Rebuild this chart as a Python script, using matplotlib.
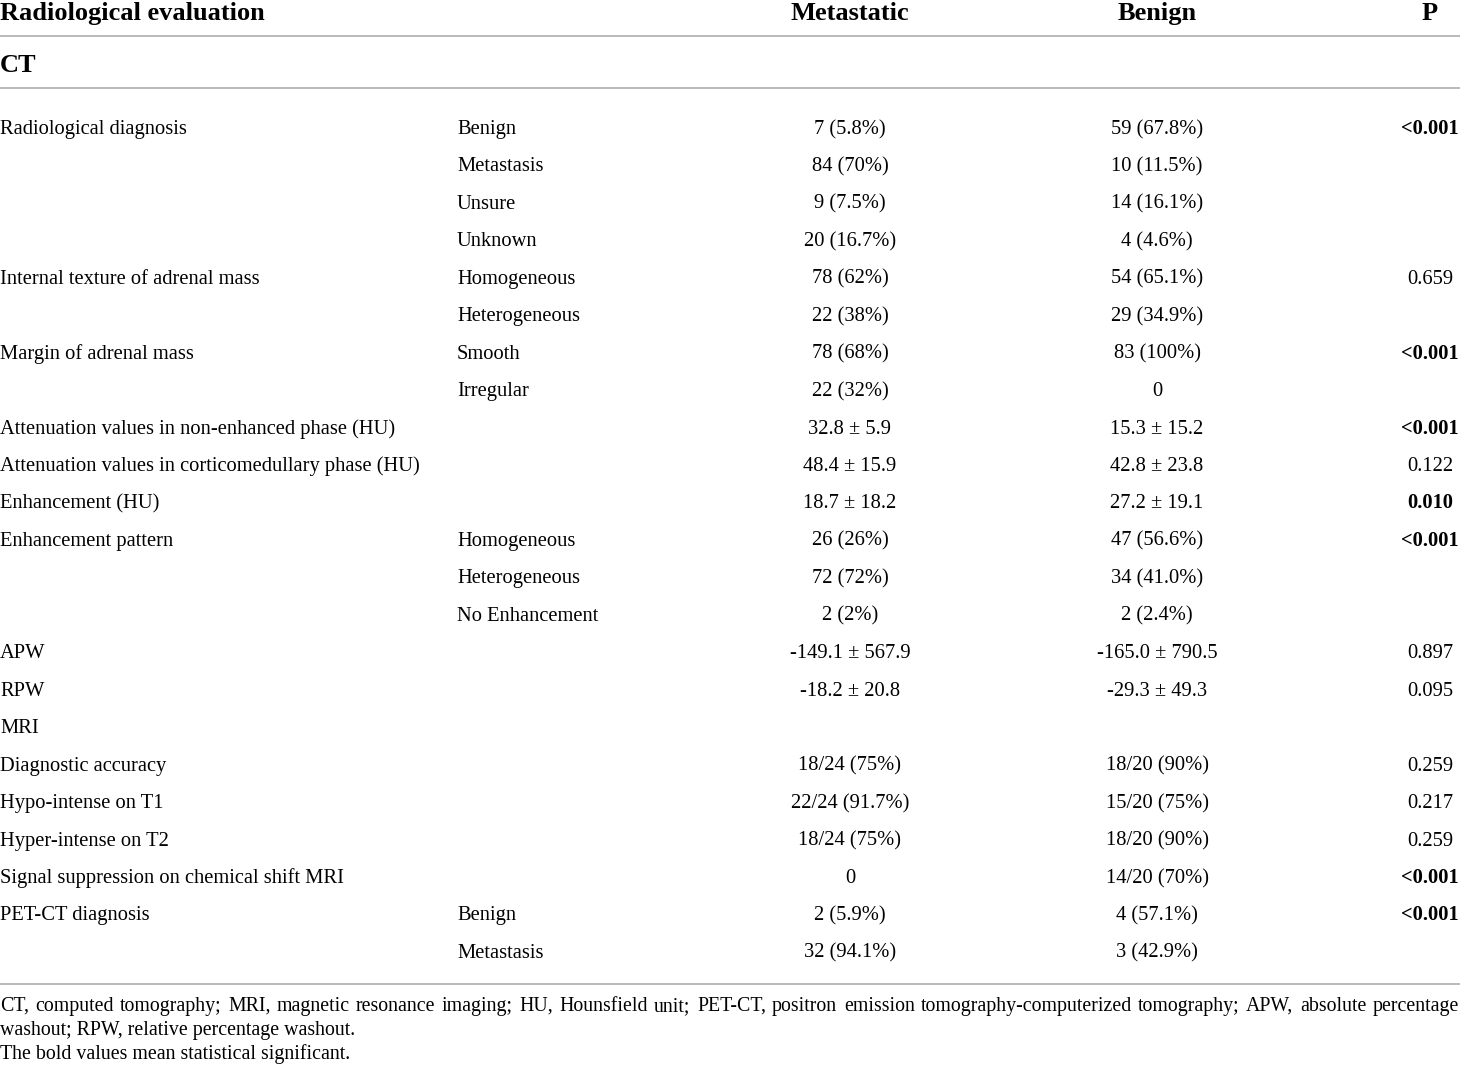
import matplotlib
matplotlib.use("Agg")
import matplotlib.pyplot as plt

plt.rcParams['font.family'] = ['Liberation Serif', 'DejaVu Serif']

# table content
headers = ["Radiological evaluation", "Metastatic", "Benign", "P"]

items = ["Radiological diagnosis", "", "", "",
         "Internal texture of adrenal mass", "",
         "Margin of adrenal mass", "",
         "Attenuation values in non-enhanced phase (HU)",
         "Attenuation values in corticomedullary phase (HU)",
         "Enhancement (HU)",
         "Enhancement pattern", "", "",
         "APW", "RPW", "MRI",
         "Diagnostic accuracy", "Hypo-intense on T1", "Hyper-intense on T2",
         "Signal suppression on chemical shift MRI",
         "PET-CT diagnosis", ""]
subitems = ["Benign", "Metastasis", "Unsure", "Unknown",
            "Homogeneous", "Heterogeneous",
            "Smooth", "Irregular",
            "", "", "",
            "Homogeneous", "Heterogeneous", "No Enhancement",
            "", "", "",
            "", "", "", "",
            "Benign", "Metastasis"]
metastatic = ["7 (5.8%)", "84 (70%)", "9 (7.5%)", "20 (16.7%)",
              "78 (62%)", "22 (38%)",
              "78 (68%)", "22 (32%)",
              "32.8 ± 5.9", "48.4 ± 15.9", "18.7 ± 18.2",
              "26 (26%)", "72 (72%)", "2 (2%)",
              "-149.1 ± 567.9", "-18.2 ± 20.8", "",
              "18/24 (75%)", "22/24 (91.7%)", "18/24 (75%)", "0",
              "2 (5.9%)", "32 (94.1%)"]
benign = ["59 (67.8%)", "10 (11.5%)", "14 (16.1%)", "4 (4.6%)",
          "54 (65.1%)", "29 (34.9%)",
          "83 (100%)", "0",
          "15.3 ± 15.2", "42.8 ± 23.8", "27.2 ± 19.1",
          "47 (56.6%)", "34 (41.0%)", "2 (2.4%)",
          "-165.0 ± 790.5", "-29.3 ± 49.3", "",
          "18/20 (90%)", "15/20 (75%)", "18/20 (90%)", "14/20 (70%)",
          "4 (57.1%)", "3 (42.9%)"]
pvalues = ["<0.001", "", "", "",
           "0.659", "",
           "<0.001", "",
           "<0.001", "0.122", "0.010",
           "<0.001", "", "",
           "0.897", "0.095", "",
           "0.259", "0.217", "0.259", "<0.001",
           "<0.001", ""]
significant = ["<0.001", "0.010"]

footnote1 = ("CT, computed tomography; MRI, magnetic resonance imaging; HU, Hounsfield unit; "
             "PET-CT, positron emission tomography-computerized tomography; APW, absolute percentage")
footnote2 = "washout; RPW, relative percentage washout."
footnote3 = "The bold values mean statistical significant."

W, H = 1460, 1069
fig = plt.figure(figsize=(W / 100, H / 100), dpi=100)
ax = fig.add_axes([0, 0, 1, 1])
ax.set_xlim(0, W)
ax.set_ylim(H, 0)
ax.axis('off')

line_col = '#b4b4b4'
fs = 14.8
hfs = 19

# header
ax.text(0, 20, headers[0], fontsize=hfs, fontweight='bold', va='baseline', ha='left')
ax.text(850, 20, headers[1], fontsize=hfs, fontweight='bold', va='baseline', ha='center')
ax.text(1157, 20, headers[2], fontsize=hfs, fontweight='bold', va='baseline', ha='center')
ax.text(1430, 20, headers[3], fontsize=hfs, fontweight='bold', va='baseline', ha='center')
ax.plot([0, W], [36, 36], color=line_col, lw=1.3)
ax.text(0, 72, "CT", fontsize=hfs, fontweight='bold', va='baseline', ha='left')
ax.plot([0, W], [88, 88], color=line_col, lw=1.3)

y0, dy = 134, 37.45
for i in range(len(items)):
    y = y0 + i * dy
    ax.text(0, y, items[i], fontsize=fs, va='baseline', ha='left')
    ax.text(457, y, subitems[i], fontsize=fs, va='baseline', ha='left')
    ax.text(850, y, metastatic[i], fontsize=fs, va='baseline', ha='center')
    ax.text(1157, y, benign[i], fontsize=fs, va='baseline', ha='center')
    ax.text(1430, y, pvalues[i], fontsize=fs, va='baseline', ha='center',
            fontweight='bold' if pvalues[i] in significant else 'normal')

ax.plot([0, W], [984, 984], color=line_col, lw=1.3)

# footnote, first line justified to full width
ffs = 14.3
fig.canvas.draw()
renderer = fig.canvas.get_renderer()
words = footnote1.split(' ')
arts = [ax.text(0, 1011, w, fontsize=ffs, va='baseline', ha='left') for w in words]
widths = [a.get_window_extent(renderer).width for a in arts]
gap = (W - 1 - sum(widths)) / (len(words) - 1)
x = 0
for a, w in zip(arts, widths):
    a.set_x(round(x))
    x += w + gap
ax.text(0, 1035, footnote2, fontsize=ffs, va='baseline', ha='left')
ax.text(0, 1059, footnote3, fontsize=ffs, va='baseline', ha='left')

fig.savefig("out.png", dpi=100)
